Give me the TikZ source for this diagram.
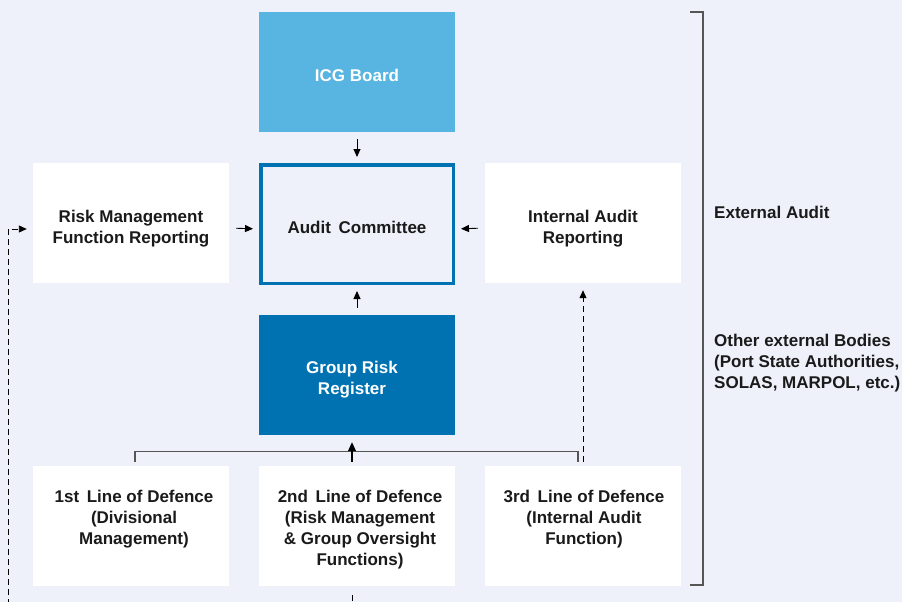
\documentclass[tikz,border=0pt]{standalone}
\usepackage{fontspec}
\setmainfont{Liberation Sans}
\usetikzlibrary{arrows.meta,positioning}
\definecolor{pagebg}{RGB}{238,241,249}
\definecolor{boardblue}{RGB}{88,180,224}
\definecolor{riskblue}{RGB}{0,114,178}
\definecolor{textdark}{RGB}{26,26,26}
\definecolor{linegray}{RGB}{85,85,85}
\begin{document}
\begin{tikzpicture}[x=1pt, y=-1pt,
		every node/.style={font=\bfseries\fontsize{17}{21}\selectfont, text=textdark},
		box/.style={minimum width=196pt, minimum height=120pt, inner sep=0pt},
		txt/.style={inner sep=0pt, align=center},
		lbl/.style={inner sep=0pt, align=center, anchor=north},
		sidetext/.style={inner sep=0pt, align=left, anchor=west},
		arr/.style={-{Triangle[length=8pt,width=7pt]}, line width=0.9pt, black, shorten <=7pt, shorten >=6pt},
		dasharr/.style={-{Triangle[length=8pt,width=7pt]}, line width=0.9pt, black, dash pattern=on 6pt off 4pt},
		treeline/.style={line width=1.1pt, linegray}]
	\useasboundingbox (0,0) rectangle (902,602);
	\fill[pagebg] (0,0) rectangle (902,602);
	% top row
	\node[box, fill=boardblue] (board) at (357,72) {};
	\node[box, draw=riskblue, line width=3.5pt, fill=pagebg, minimum width=192.5pt, minimum height=118.5pt] (audit) at (357,224) {};
	\node[box, fill=white] (rmf) at (131,223) {};
	\node[box, fill=white] (iar) at (583,223) {};
	\node[box, fill=riskblue] (grr) at (357,375) {};
	\node[txt, text=white] (boardtxt) at ([yshift=-3pt]board.center) {ICG Board};
	\node[txt] (audittxt) at ([yshift=-3pt]audit.center) {Audit\hspace{0.45em}Committee};
	\node[txt] (rmftxt) at ([yshift=-6pt]rmf.center) {Risk Management\\Function Reporting};
	\node[txt] (iartxt) at ([yshift=-6pt]iar.center) {Internal Audit\\Reporting};
	\node[txt, text=white] (grrtxt) at ([xshift=-5pt,yshift=-5pt]grr.center) {Group Risk\\Register};
	% three lines of defence
	\node[box, fill=white] (l1) at (131,526) {};
	\node[box, fill=white] (l2) at (357,526) {};
	\node[box, fill=white] (l3) at (583,526) {};
	\node[lbl] (l1txt) at (134,490) {1st\hspace{0.45em}Line of Defence\\(Divisional\\Management)};
	\node[lbl] (l2txt) at (360,490) {2nd\hspace{0.45em}Line of Defence\\(Risk Management\\\&{} Group Oversight\\Functions)};
	\node[lbl] (l3txt) at (584,490) {3rd\hspace{0.45em}Line of Defence\\(Internal Audit\\Function)};
	% arrows into the committee
	\draw[arr] (board) -- (audit);
	\draw[arr] ([yshift=-5pt]rmf.east) -- ([yshift=-5pt]audit.west);
	\draw[arr] ([yshift=-5pt]iar.west) -- ([yshift=-5pt]audit.east);
	\draw[arr] (grr) -- (audit);
	% tree up to the register
	\draw[treeline] ([xshift=4pt,yshift=4pt]l1.north) -- ++(0,-10) -| ([xshift=-5pt,yshift=4pt]l3.north);
	\draw[treeline, -{Triangle[length=9pt,width=8pt]}, black] ([xshift=-5pt,yshift=4pt]l2.north) -- ([xshift=-5pt,yshift=-7pt]grr.south);
	% dashed reporting lines
	\coordinate (lstart) at (8,615);
	\coordinate (bstub) at (352,615);
	\draw[dasharr] ([yshift=4pt]l3.north) -- ([yshift=-7pt]iar.south);
	\draw[dasharr] (lstart) |- ([xshift=-6pt,yshift=-6pt]rmf.west);
	\draw[line width=0.9pt, black, dash pattern=on 6pt off 4pt] ([xshift=-5pt,yshift=-9pt]l2.south) -- (bstub);
	% external bracket
	\draw[line width=1.3pt, linegray] (690,12) -- (703,12) -- (703,585) -- (690,585);
	\node[sidetext] (ext) at (714,212) {External Audit};
	\node[sidetext] (other) at (714,363) {Other external Bodies\\(Port State Authorities,\\SOLAS, MARPOL, etc.)};
\end{tikzpicture}
\end{document}
